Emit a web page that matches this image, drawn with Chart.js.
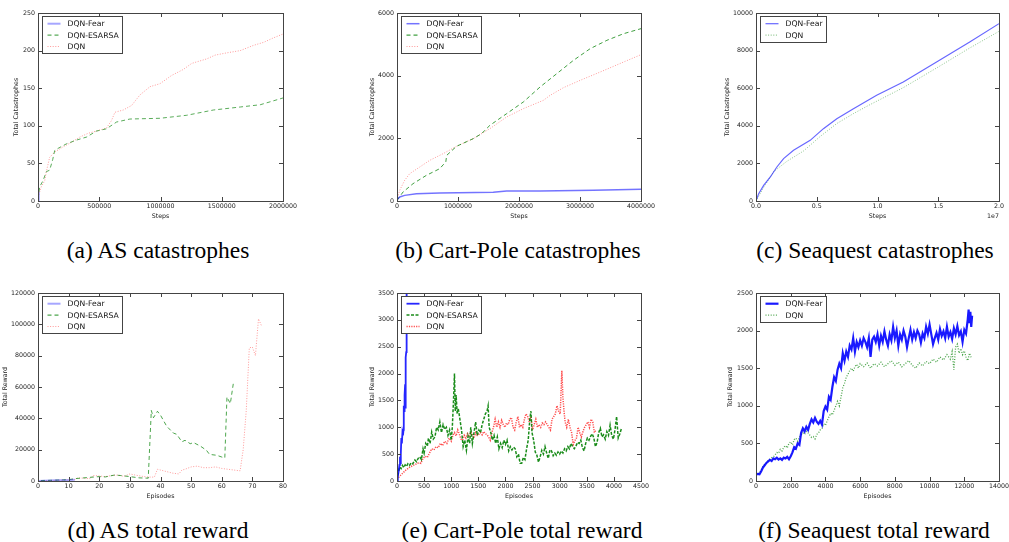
<!DOCTYPE html>
<html>
<head>
<meta charset="utf-8">
<script src="https://cdn.jsdelivr.net/npm/chart.js@4.4.1/dist/chart.umd.min.js"></script>
<style>
  body { margin:0; background:#fff; width:1009px; height:542px; position:relative; overflow:hidden; }
  canvas { position:absolute; }
  .cap { position:absolute; font-family:"Liberation Serif", "Times New Roman", serif; font-size:23.5px; line-height:23.5px; color:#000; white-space:nowrap; transform:translateX(-50%); }
</style>
</head>
<body>
<canvas id="cA"></canvas>
<canvas id="cB"></canvas>
<canvas id="cC"></canvas>
<canvas id="cD"></canvas>
<canvas id="cE"></canvas>
<canvas id="cF"></canvas>
<div class="cap" style="left:158px;top:239px">(a) AS catastrophes</div>
<div class="cap" style="left:518px;top:239px">(b) Cart-Pole catastrophes</div>
<div class="cap" style="left:875px;top:239px">(c) Seaquest catastrophes</div>
<div class="cap" style="left:158px;top:519px">(d) AS total reward</div>
<div class="cap" style="left:522px;top:519px">(e) Cart-Pole total reward</div>
<div class="cap" style="left:874px;top:519px">(f) Seaquest total reward</div>
<script>
// ---- (a) AS catastrophes ----
const asStepTicks = [0, 500000, 1000000, 1500000, 2000000];
const asCatTicks = [0, 50, 100, 150, 200, 250];
const asCatFearX = [0, 4000, 8000];
const asCatFearY = [0, 7, 12];
const asCatEsarsaX = [0, 14000, 41000, 68000, 95000, 120000, 136000, 164000, 232000, 314000, 396000, 477000, 559000, 641000, 750000, 996000, 1214000, 1432000, 1651000, 1814000, 2000000];
const asCatEsarsaY = [3, 19, 27, 39, 41, 55, 67, 70, 76, 81, 85, 93, 96, 105, 109, 110, 114, 121, 125, 128, 137];
const asCatDqnX = [0, 27000, 55000, 68000, 95000, 136000, 205000, 273000, 341000, 409000, 477000, 559000, 600000, 628000, 696000, 764000, 832000, 914000, 996000, 1091000, 1187000, 1255000, 1378000, 1446000, 1541000, 1651000, 1760000, 1842000, 1923000, 2000000];
const asCatDqnY = [5, 19, 27, 39, 58, 65, 72, 78, 85, 90, 93, 97, 107, 118, 121, 127, 141, 152, 156, 167, 175, 183, 189, 194, 197, 200, 207, 211, 217, 222];

// ---- (b) Cart-Pole catastrophes ----
const cpStepTicks = [0, 1000000, 2000000, 3000000, 4000000];
const cpCatTicks = [0, 2000, 4000, 6000];
const cpCatFearX = [0, 44000, 126000, 318000, 701000, 1578000, 1797000, 2345000, 3222000, 4000000];
const cpCatFearY = [40, 130, 180, 234, 255, 277, 320, 320, 340, 372];
const cpCatEsarsaX = [0, 99000, 263000, 482000, 701000, 800000, 815000, 975000, 1249000, 1386000, 1523000, 1797000, 2071000, 2345000, 2619000, 2893000, 3167000, 3441000, 3715000, 4000000];
const cpCatEsarsaY = [20, 287, 553, 819, 1032, 1250, 1457, 1745, 1989, 2149, 2415, 2787, 3160, 3638, 4064, 4489, 4862, 5128, 5340, 5500];
const cpCatDqnX = [0, 44000, 126000, 208000, 373000, 537000, 756000, 975000, 1249000, 1523000, 1797000, 2071000, 2400000, 2510000, 2729000, 3003000, 3332000, 3715000, 4000000];
const cpCatDqnY = [20, 340, 660, 872, 1085, 1298, 1511, 1745, 1989, 2308, 2681, 2947, 3213, 3372, 3617, 3851, 4117, 4436, 4670];

// ---- (c) Seaquest catastrophes ----
const sqStepTicks = [0, 5000000, 10000000, 15000000, 20000000];
const sqStepLabels = ['0.0', '0.5', '1.0', '1.5', '2.0'];
const sqCatTicks = [0, 2000, 4000, 6000, 8000, 10000];
const sqCatFearX = [0, 220000, 630000, 1180000, 1720000, 2270000, 3090000, 4460000, 5550000, 6650000, 8020000, 9930000, 12120000, 14860000, 17590000, 20000000];
const sqCatFearY = [0, 390, 833, 1277, 1809, 2252, 2695, 3227, 3848, 4379, 4911, 5621, 6330, 7394, 8457, 9433];
const sqCatDqnX = [0, 630000, 1450000, 2540000, 3910000, 5280000, 6650000, 8020000, 9380000, 12120000, 14860000, 17590000, 20000000];
const sqCatDqnY = [0, 720, 1560, 2110, 2660, 3430, 4120, 4650, 5124, 6028, 7075, 8138, 9025];

// ---- (d) AS total reward ----
const asEpTicks = [0, 10, 20, 30, 40, 50, 60, 70, 80];
const asRewTicks = [0, 20000, 40000, 60000, 80000, 100000, 120000];
const asRewFearX = [0, 2, 4, 6, 8, 10, 12];
const asRewFearY = [0, 150, 300, 400, 500, 600, 800];
const asRewEsarsaX = [1, 3, 5, 8, 10, 12, 15, 18, 20, 22, 25, 27, 30, 33, 36, 37, 37.7, 39, 40, 42, 44.2, 45.3, 47, 48, 49.7, 50.8, 53, 55, 56, 58.4, 60, 61, 61.7, 62.8, 63.9];
const asRewEsarsaY = [300, 400, 500, 700, 800, 1500, 2000, 2500, 2800, 2600, 3800, 3500, 2800, 2000, 1800, 45000, 40400, 44500, 42000, 35000, 30600, 29800, 25000, 26000, 23800, 24500, 22300, 19600, 17000, 16400, 15300, 14700, 53600, 49400, 63800];
const asRewDqnX = [0, 4, 8, 12, 13, 15, 17, 18, 20, 22, 24, 26, 28, 30, 32, 34, 36, 38, 39, 40, 42, 44, 46, 47, 48, 50, 52, 54, 56, 58, 60, 62, 64, 66, 67, 68, 69, 70, 71, 72, 73];
const asRewDqnY = [0, 300, 600, 900, 2000, 1800, 1500, 3500, 3200, 2800, 3500, 3800, 3000, 4500, 3700, 3000, 2500, 2500, 7500, 7000, 6000, 5000, 4500, 7000, 7500, 9000, 9500, 8500, 8500, 9000, 8000, 7500, 7000, 6500, 20000, 45000, 85000, 85500, 80000, 103500, 99000];

// ---- (e) Cart-Pole total reward ----
const cpEpTicks = [0, 500, 1000, 1500, 2000, 2500, 3000, 3500, 4000, 4500];
const cpRewTicks = [0, 500, 1000, 1500, 2000, 2500, 3000, 3500];
const cpRewFearX = [0, 15, 30, 45, 55, 60, 70, 80, 90, 100, 110, 120, 125, 130, 135, 140, 145, 150, 155, 160, 165, 170, 175, 180];
const cpRewFearY = [10, 80, 180, 300, 450, 330, 500, 800, 700, 900, 850, 950, 1400, 1300, 1500, 1350, 1600, 1800, 1350, 1700, 2300, 2400, 3600, 4200];
const cpRewEsarsaX = [0, 25, 50, 75, 100, 125, 150, 175, 200, 230, 260, 290, 330, 360, 390, 420, 450, 480, 500, 530, 560, 580, 610, 640, 670, 700, 730, 760, 790, 820, 850, 880, 910, 940, 970, 1000, 1020, 1040, 1060, 1075, 1090, 1110, 1130, 1160, 1190, 1220, 1250, 1280, 1310, 1340, 1360, 1390, 1420, 1450, 1480, 1510, 1540, 1570, 1600, 1630, 1660, 1680, 1700, 1730, 1760, 1790, 1820, 1850, 1880, 1910, 1940, 1970, 2000, 2030, 2060, 2090, 2120, 2150, 2180, 2210, 2240, 2270, 2300, 2330, 2360, 2390, 2420, 2450, 2470, 2490, 2520, 2550, 2580, 2610, 2640, 2670, 2700, 2730, 2760, 2790, 2820, 2850, 2880, 2910, 2940, 2970, 3000, 3030, 3060, 3090, 3120, 3150, 3180, 3210, 3240, 3270, 3300, 3330, 3360, 3390, 3420, 3450, 3480, 3510, 3540, 3570, 3600, 3630, 3660, 3690, 3720, 3750, 3780, 3810, 3840, 3870, 3900, 3930, 3960, 3990, 4020, 4050, 4080, 4110, 4140];
const cpRewEsarsaY = [20, 150, 260, 230, 290, 250, 300, 270, 320, 290, 340, 320, 390, 360, 420, 450, 400, 600, 520, 700, 650, 800, 700, 910, 780, 820, 1000, 950, 1100, 900, 1050, 960, 1000, 850, 950, 760, 1000, 1450, 2000, 1300, 1600, 1250, 1350, 1150, 950, 640, 760, 570, 830, 700, 1000, 700, 900, 1100, 850, 950, 900, 1050, 1150, 1250, 1300, 1400, 1000, 900, 760, 850, 700, 820, 600, 700, 620, 760, 680, 760, 560, 640, 580, 630, 600, 450, 500, 330, 330, 440, 400, 600, 760, 1160, 1300, 900, 760, 540, 480, 350, 450, 570, 500, 640, 520, 420, 580, 560, 470, 520, 480, 540, 500, 560, 520, 600, 560, 640, 600, 700, 640, 600, 650, 720, 700, 760, 620, 560, 700, 800, 760, 830, 880, 800, 640, 720, 900, 980, 820, 860, 780, 920, 850, 1040, 850, 780, 950, 1200, 800, 880, 980];
const cpRewDqnX = [0, 40, 80, 120, 160, 200, 240, 280, 320, 360, 400, 440, 480, 520, 560, 600, 640, 680, 720, 760, 800, 840, 880, 920, 960, 1000, 1030, 1060, 1090, 1120, 1150, 1180, 1210, 1240, 1270, 1300, 1330, 1360, 1390, 1420, 1450, 1480, 1510, 1540, 1570, 1600, 1630, 1660, 1690, 1720, 1750, 1780, 1810, 1840, 1870, 1900, 1930, 1960, 1990, 2020, 2050, 2080, 2110, 2140, 2170, 2200, 2230, 2260, 2290, 2320, 2350, 2380, 2410, 2440, 2470, 2500, 2530, 2560, 2590, 2620, 2650, 2680, 2710, 2740, 2770, 2800, 2830, 2860, 2890, 2920, 2950, 2980, 3010, 3040, 3060, 3080, 3100, 3130, 3160, 3190, 3220, 3250, 3280, 3310, 3340, 3370, 3400, 3430, 3460, 3490, 3520, 3550, 3580, 3610, 3640, 3670];
const cpRewDqnY = [30, 80, 120, 160, 200, 230, 260, 280, 300, 320, 340, 330, 420, 460, 440, 520, 600, 580, 640, 620, 700, 660, 740, 700, 800, 740, 850, 900, 840, 950, 870, 780, 760, 850, 800, 880, 820, 910, 870, 800, 900, 850, 870, 900, 860, 920, 880, 860, 820, 760, 900, 1000, 1150, 1000, 1100, 1000, 1130, 1050, 1000, 1080, 1050, 1150, 1180, 1000, 950, 1100, 1200, 1000, 1050, 1000, 1150, 1250, 1200, 1100, 1200, 950, 1050, 1150, 1000, 1050, 1000, 1080, 1050, 1100, 1050, 1000, 950, 1150, 1200, 1250, 1400, 1300, 1250, 2050, 1550, 1300, 1100, 1000, 1150, 1000, 900, 680, 750, 800, 1000, 900, 820, 920, 1000, 1050, 1100, 1000, 1150, 1100, 900, 950];

// ---- (f) Seaquest total reward ----
const sqEpTicks = [0, 2000, 4000, 6000, 8000, 10000, 12000, 14000];
const sqRewTicks = [0, 500, 1000, 1500, 2000, 2500];
const sqRewFearX = [0, 100, 200, 300, 400, 500, 600, 700, 800, 900, 1000, 1100, 1200, 1300, 1400, 1500, 1600, 1700, 1800, 1900, 2000, 2100, 2200, 2300, 2400, 2500, 2600, 2700, 2800, 2900, 3000, 3100, 3200, 3300, 3400, 3500, 3600, 3700, 3800, 3900, 4000, 4100, 4200, 4300, 4400, 4500, 4600, 4700, 4800, 4900, 5000, 5100, 5200, 5300, 5400, 5500, 5600, 5700, 5800, 5900, 6000, 6100, 6200, 6300, 6400, 6500, 6600, 6700, 6800, 6900, 7000, 7100, 7200, 7300, 7400, 7500, 7600, 7700, 7800, 7900, 8000, 8100, 8200, 8300, 8400, 8500, 8600, 8700, 8800, 8900, 9000, 9100, 9200, 9300, 9400, 9500, 9600, 9700, 9800, 9900, 10000, 10100, 10200, 10300, 10400, 10500, 10600, 10700, 10800, 10900, 11000, 11100, 11200, 11300, 11400, 11500, 11600, 11700, 11800, 11900, 12000, 12100, 12200, 12250, 12300, 12350, 12400, 12450];
const sqRewFearY = [85, 95, 90, 130, 180, 210, 240, 260, 280, 265, 300, 290, 310, 285, 300, 280, 310, 300, 320, 290, 330, 380, 450, 430, 500, 480, 640, 700, 660, 720, 680, 760, 820, 780, 840, 790, 760, 800, 750, 930, 990, 950, 1120, 1080, 1250, 1380, 1330, 1480, 1560, 1500, 1700, 1600, 1720, 1650, 1800, 1750, 1900, 1720, 1850, 1780, 1870, 1800, 1900, 1850, 1780, 1900, 1650, 1880, 1920, 1850, 1950, 1800, 1930, 1850, 1990, 1880, 1800, 1950, 1870, 2050, 1900, 2000, 1800, 1950, 1880, 2000, 1920, 1780, 1900, 2010, 1880, 1980, 1900, 2000, 1950, 1840, 1960, 1900, 2050, 1960, 2080, 1950, 1820, 1900, 1970, 1880, 2020, 1930, 1990, 1900, 2050, 1920, 1980, 1890, 2030, 1950, 2060, 1940, 1990, 1850, 2010, 1960, 2150, 2280, 2100, 2250, 2050, 2200];
const sqRewDqnX = [0, 100, 200, 300, 400, 500, 600, 700, 800, 900, 1000, 1100, 1200, 1300, 1400, 1500, 1600, 1700, 1800, 1900, 2000, 2100, 2200, 2300, 2400, 2500, 2600, 2700, 2800, 2900, 3000, 3100, 3200, 3300, 3400, 3500, 3600, 3700, 3800, 3900, 4000, 4100, 4200, 4300, 4400, 4500, 4600, 4700, 4800, 4900, 5000, 5100, 5200, 5300, 5400, 5500, 5600, 5700, 5800, 5900, 6000, 6200, 6400, 6600, 6800, 7000, 7200, 7400, 7600, 7800, 8000, 8200, 8400, 8600, 8800, 9000, 9200, 9400, 9600, 9800, 10000, 10200, 10400, 10600, 10800, 11000, 11200, 11300, 11400, 11500, 11600, 11700, 11800, 11900, 12000, 12100, 12200, 12300, 12400];
const sqRewDqnY = [80, 90, 110, 150, 190, 220, 240, 270, 290, 310, 320, 350, 380, 370, 420, 400, 450, 470, 440, 500, 520, 480, 550, 570, 530, 580, 610, 640, 620, 660, 640, 610, 580, 590, 560, 620, 640, 680, 700, 760, 740, 800, 850, 900, 880, 940, 1000, 1060, 1000, 1120, 1240, 1300, 1380, 1420, 1470, 1500, 1460, 1520, 1550, 1500, 1560, 1520, 1570, 1500, 1560, 1530, 1580, 1520, 1560, 1600, 1540, 1580, 1520, 1560, 1600, 1540, 1500, 1570, 1530, 1590, 1560, 1620, 1580, 1650, 1610, 1680, 1620, 1720, 1480, 1780, 1820, 1700, 1760, 1680, 1730, 1650, 1600, 1700, 1640];

const BLUE = 'rgba(0,0,255,', GREEN = 'rgba(0,128,0,', RED = 'rgba(255,0,0,';
const DASH = [4, 3], DOT = [1, 1.6];

function pts(xs, ys) {
    return xs.map((x, i) => ({ x: x, y: ys[i] }));
}

function line(label, xs, ys, color, width, dash) {
    return {
        label: label, data: pts(xs, ys), borderColor: color, borderWidth: width,
        borderDash: dash || [], pointRadius: 0, fill: false, tension: 0
    };
}

const FONT = '"DejaVu Sans", sans-serif';

function makePanel(id, L, T, R, B, cfg) {
    const yw = 40, topPad = 8, rightPad = 22, xh = 24;
    const cv = document.getElementById(id);
    cv.width = yw + (R - L) + rightPad;
    cv.height = topPad + (B - T) + xh;
    cv.style.left = (L - yw) + 'px';
    cv.style.top = (T - topPad) + 'px';

    const tickFont = { family: FONT, size: 6.3 };

    const framePlugin = {
        id: 'frame' + id,
        afterDraw(chart) {
            const ctx = chart.ctx, a = chart.chartArea;
            const xs = chart.scales.x, ys = chart.scales.y;
            ctx.save();
            ctx.strokeStyle = '#444';
            ctx.lineWidth = 1;
            ctx.beginPath();
            xs.ticks.forEach(t => {
                const p = Math.round(xs.getPixelForValue(t.value)) + 0.5;
                ctx.moveTo(p, a.bottom); ctx.lineTo(p, a.bottom - 4);
                ctx.moveTo(p, a.top); ctx.lineTo(p, a.top + 4);
            });
            ys.ticks.forEach(t => {
                const p = Math.round(ys.getPixelForValue(t.value)) + 0.5;
                ctx.moveTo(a.left, p); ctx.lineTo(a.left + 4, p);
                ctx.moveTo(a.right, p); ctx.lineTo(a.right - 4, p);
            });
            ctx.stroke();
            ctx.strokeRect(Math.round(a.left) + 0.5, Math.round(a.top) + 0.5, Math.round(a.right - a.left), Math.round(a.bottom - a.top));

            // legend inside the axes, top left
            const sets = chart.data.datasets;
            ctx.font = '7.7px ' + FONT;
            let tw = 0;
            sets.forEach(d => { tw = Math.max(tw, ctx.measureText(d.label).width); });
            const bx = Math.round(a.left + 4) + 0.5, by = Math.round(a.top + 3) + 0.5;
            const bw = Math.round(25 + tw + 4), bh = Math.round(sets.length * 11.4 + 3);
            ctx.fillStyle = '#fff';
            ctx.fillRect(bx, by, bw, bh);
            ctx.strokeStyle = '#444';
            ctx.strokeRect(bx, by, bw, bh);
            sets.forEach((d, i) => {
                const cy = by + 7.2 + i * 11.4;
                ctx.strokeStyle = d.borderColor;
                ctx.lineWidth = Math.max(d.borderWidth, 1.2);
                ctx.setLineDash(d.borderDash);
                ctx.beginPath();
                ctx.moveTo(bx + 5, cy); ctx.lineTo(bx + 18, cy);
                ctx.stroke();
                ctx.setLineDash([]);
                ctx.fillStyle = '#111';
                ctx.textBaseline = 'middle';
                ctx.textAlign = 'left';
                ctx.fillText(d.label, bx + 25, cy + 0.5);
            });
            if (cfg.offsetText) {
                ctx.font = '6.3px ' + FONT;
                ctx.fillStyle = '#222';
                ctx.textAlign = 'right';
                ctx.textBaseline = 'middle';
                ctx.fillText(cfg.offsetText, a.right, a.bottom + 15);
            }
            ctx.restore();
        }
    };

    return new Chart(cv, {
        type: 'line',
        data: { datasets: cfg.series },
        options: {
            responsive: false,
            animation: false,
            layout: { padding: { left: 0, top: topPad, right: rightPad, bottom: 0 } },
            plugins: { legend: { display: false }, tooltip: { enabled: false } },
            scales: {
                x: {
                    type: 'linear', min: cfg.xTicks[0], max: cfg.xTicks[cfg.xTicks.length - 1],
                    grid: { display: false, drawTicks: false }, border: { display: false },
                    afterBuildTicks: s => { s.ticks = cfg.xTicks.map(v => ({ value: v })); },
                    afterFit: s => { s.height = xh; s.paddingLeft = 0; s.paddingRight = 0; },
                    ticks: {
                        autoSkip: false, maxRotation: 0, padding: 2, color: '#222', font: tickFont,
                        callback: (v, i) => cfg.xLabels ? cfg.xLabels[i] : String(v)
                    },
                    title: { display: true, text: cfg.xTitle, color: '#222', font: tickFont, padding: { top: 0, bottom: 4.9 } }
                },
                y: {
                    type: 'linear', min: cfg.yTicks[0], max: cfg.yTicks[cfg.yTicks.length - 1],
                    grid: { display: false, drawTicks: false }, border: { display: false },
                    afterBuildTicks: s => { s.ticks = cfg.yTicks.map(v => ({ value: v })); },
                    afterFit: s => { s.width = yw; s.paddingTop = 0; s.paddingBottom = 0; },
                    ticks: { autoSkip: false, padding: 3, color: '#222', font: tickFont, callback: v => String(v) },
                    title: { display: true, text: cfg.yTitle, color: '#222', font: tickFont, padding: { top: yw - cfg.yGap - 3.8, bottom: 0 } }
                }
            }
        },
        plugins: [framePlugin]
    });
}

makePanel('cA', 38, 13, 283, 201, {
    xTicks: asStepTicks, yTicks: asCatTicks, xTitle: 'Steps', yTitle: 'Total Catastrophes', yGap: 21.6,
    series: [
        line('DQN-Fear', asCatFearX, asCatFearY, BLUE + '0.35)', 2),
        line('DQN-ESARSA', asCatEsarsaX, asCatEsarsaY, GREEN + '0.65)', 1, DASH),
        line('DQN', asCatDqnX, asCatDqnY, RED + '0.4)', 1, DOT)
    ]
});
makePanel('cB', 397, 13, 641, 201, {
    xTicks: cpStepTicks, yTicks: cpCatTicks, xTitle: 'Steps', yTitle: 'Total Catastrophes', yGap: 25,
    series: [
        line('DQN-Fear', cpCatFearX, cpCatFearY, BLUE + '0.55)', 1.5),
        line('DQN-ESARSA', cpCatEsarsaX, cpCatEsarsaY, GREEN + '0.75)', 1, DASH),
        line('DQN', cpCatDqnX, cpCatDqnY, RED + '0.4)', 1, DOT)
    ]
});
makePanel('cC', 756, 13, 999, 201, {
    xTicks: sqStepTicks, xLabels: sqStepLabels, yTicks: sqCatTicks, xTitle: 'Steps', yTitle: 'Total Catastrophes', yGap: 29, offsetText: '1e7',
    series: [
        line('DQN-Fear', sqCatFearX, sqCatFearY, BLUE + '0.6)', 1.2),
        line('DQN', sqCatDqnX, sqCatDqnY, GREEN + '0.45)', 1, DOT)
    ]
});
makePanel('cD', 38, 293, 283, 481, {
    xTicks: asEpTicks, yTicks: asRewTicks, xTitle: 'Episodes', yTitle: 'Total Reward', yGap: 33,
    series: [
        line('DQN-Fear', asRewFearX, asRewFearY, BLUE + '0.35)', 2),
        line('DQN-ESARSA', asRewEsarsaX, asRewEsarsaY, GREEN + '0.7)', 1, DASH),
        line('DQN', asRewDqnX, asRewDqnY, RED + '0.4)', 1, DOT)
    ]
});
makePanel('cE', 397, 293, 641, 481, {
    xTicks: cpEpTicks, yTicks: cpRewTicks, xTitle: 'Episodes', yTitle: 'Total Reward', yGap: 25,
    series: [
        line('DQN-Fear', cpRewFearX, cpRewFearY, BLUE + '0.85)', 1.8),
        line('DQN-ESARSA', cpRewEsarsaX, cpRewEsarsaY, GREEN + '0.9)', 1.5, [3, 1.5]),
        line('DQN', cpRewDqnX, cpRewDqnY, RED + '0.7)', 1.5, [1.2, 1.2])
    ]
});
makePanel('cF', 756, 293, 999, 481, {
    xTicks: sqEpTicks, yTicks: sqRewTicks, xTitle: 'Episodes', yTitle: 'Total Reward', yGap: 25.7,
    series: [
        line('DQN-Fear', sqRewFearX, sqRewFearY, BLUE + '0.9)', 2.2),
        line('DQN', sqRewDqnX, sqRewDqnY, GREEN + '0.7)', 1.3, DOT)
    ]
});
</script>
</body>
</html>
